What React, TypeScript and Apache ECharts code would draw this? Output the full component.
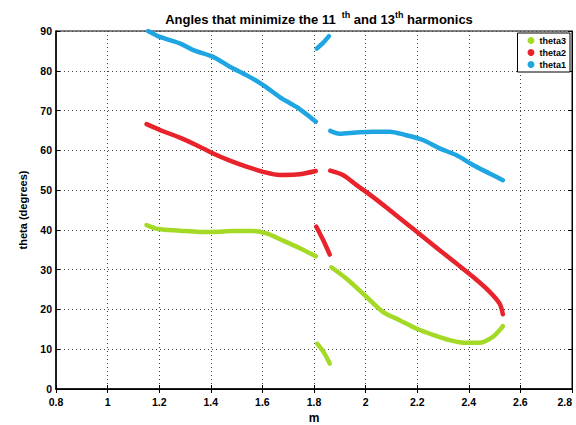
import React, { useEffect, useRef } from "react";
import * as echarts from "echarts";

// theta1 (blue) segments
const theta1A: number[][] = [
  [1.157, 90.0], [1.203, 88.5], [1.28, 86.9], [1.332, 85.2], [1.409, 83.5], [1.474, 81.0],
  [1.538, 78.9], [1.603, 76.4], [1.667, 73.4], [1.732, 70.9], [1.807, 67.2],
];
const theta1B: number[][] = [[1.811, 85.6], [1.835, 87.0], [1.858, 88.7]];
const theta1C: number[][] = [
  [1.863, 64.9], [1.899, 64.2], [1.964, 64.5], [2.028, 64.7], [2.093, 64.7], [2.158, 63.8],
  [2.222, 62.6], [2.287, 60.5], [2.351, 58.8], [2.416, 56.3], [2.48, 54.2], [2.532, 52.5],
];

// theta2 (red) segments
const theta2A: number[][] = [
  [1.151, 66.6], [1.215, 64.8], [1.28, 63.2], [1.345, 61.3], [1.409, 59.2], [1.474, 57.4],
  [1.538, 55.9], [1.603, 54.6], [1.667, 53.8], [1.732, 53.9], [1.807, 54.8],
];
const theta2B: number[][] = [[1.809, 40.8], [1.835, 37.5], [1.861, 33.8]];
const theta2C: number[][] = [
  [1.863, 54.9], [1.912, 53.8], [1.964, 51.3], [2.028, 48.3], [2.093, 45.0], [2.158, 41.6],
  [2.222, 38.3], [2.287, 34.9], [2.351, 31.6], [2.416, 28.2], [2.48, 24.5], [2.519, 21.5],
  [2.532, 18.8],
];

// theta3 (green) segments
const theta3A: number[][] = [
  [1.151, 41.2], [1.196, 40.2], [1.28, 39.8], [1.357, 39.5], [1.409, 39.5], [1.486, 39.7],
  [1.564, 39.7], [1.616, 39.1], [1.68, 37.3], [1.745, 35.4], [1.807, 33.4],
];
const theta3B: number[][] = [[1.812, 11.4], [1.838, 9.2], [1.861, 6.4]];
const theta3C: number[][] = [
  [1.867, 30.6], [1.932, 27.4], [2.003, 23.2], [2.067, 19.4], [2.132, 17.3], [2.196, 15.2],
  [2.261, 13.6], [2.325, 12.3], [2.39, 11.6], [2.441, 11.6], [2.493, 13.1], [2.525, 15.2],
  [2.532, 15.8],
];

const xTicks = { min: 0.8, max: 2.8, step: 0.2 };
const yTicks = { min: 0, max: 90, step: 10 };

const GREEN = "#a4d925";
const RED = "#e8232b";
const BLUE = "#1fa6e2";
const FONT = "Liberation Sans";

export default function App() {
  const ref = useRef<HTMLDivElement>(null);
  useEffect(() => {
    if (!ref.current) return;
    const chart = echarts.init(ref.current, undefined, { renderer: "svg" });
    const seg = (name: string, color: string, data: number[][]) => ({
      name,
      type: "line",
      data,
      smooth: 0.3,
      showSymbol: false,
      symbol: "circle",
      symbolSize: 6,
      itemStyle: { color },
      lineStyle: { color, width: 4.5, cap: "round", join: "round" },
      silent: true,
      z: 5,
    });
    const axisLabel = { color: "#000", fontFamily: FONT, fontWeight: "bold", fontSize: 10.5 };
    const split = { show: true, lineStyle: { color: "#444", type: [1, 3], width: 1 } };
    chart.setOption({
      animation: false,
      backgroundColor: "#fff",
      title: {
        text: "Angles that minimize the 11 {sup| th} and 13{sup|th} harmonics",
        left: 314,
        textAlign: "center",
        top: 5,
        textStyle: {
          fontFamily: FONT,
          fontWeight: "bold",
          fontSize: 13,
          color: "#000",
          rich: {
            sup: { fontFamily: FONT, fontWeight: "bold", fontSize: 9, color: "#000", verticalAlign: "top", padding: [0, 0, 9, 0] },
          },
        },
      },
      legend: {
        data: ["theta3", "theta2", "theta1"],
        orient: "vertical",
        right: 6,
        top: 33,
        itemWidth: 7,
        itemHeight: 7,
        itemGap: 3,
        icon: "circle",
        padding: [3, 4, 3, 10],
        borderColor: "#000",
        borderWidth: 1,
        backgroundColor: "#fff",
        textStyle: { fontFamily: FONT, fontSize: 9, fontWeight: "bold", color: "#000" },
      },
      grid: {
        left: 56,
        right: 4,
        top: 31,
        bottom: 36,
        containLabel: false,
        outerBoundsMode: "none",
        show: true,
        borderColor: "#000",
        borderWidth: 1,
      },
      xAxis: [
        {
          type: "value",
          min: xTicks.min,
          max: xTicks.max,
          interval: xTicks.step,
          name: "m",
          nameLocation: "middle",
          nameGap: 22,
          nameTextStyle: { color: "#000", fontFamily: FONT, fontWeight: "bold", fontSize: 12 },
          axisLine: { lineStyle: { color: "#000", width: 1.5 } },
          axisTick: { inside: true, length: 4, lineStyle: { color: "#000" } },
          axisLabel: {
            ...axisLabel,
            margin: 7,
            alignMaxLabel: "right",
            formatter: (v: number) => String(Number(v.toFixed(1))),
          },
          splitLine: split,
        },
        {
          type: "value",
          position: "top",
          min: xTicks.min,
          max: xTicks.max,
          interval: xTicks.step,
          axisLine: { lineStyle: { color: "#000" } },
          axisTick: { inside: true, length: 4, lineStyle: { color: "#000" } },
          axisLabel: { show: false },
          splitLine: { show: false },
        },
      ],
      yAxis: [
        {
          type: "value",
          min: yTicks.min,
          max: yTicks.max,
          interval: yTicks.step,
          name: "theta (degrees)",
          nameLocation: "middle",
          nameGap: 28,
          nameTextStyle: { color: "#000", fontFamily: FONT, fontWeight: "bold", fontSize: 11 },
          axisLine: { lineStyle: { color: "#000", width: 1.5 } },
          axisTick: { inside: true, length: 4, lineStyle: { color: "#000" } },
          axisLabel: { ...axisLabel, margin: 4 },
          splitLine: split,
        },
        {
          type: "value",
          position: "right",
          min: yTicks.min,
          max: yTicks.max,
          interval: yTicks.step,
          axisLine: { lineStyle: { color: "#000" } },
          axisTick: { inside: true, length: 4, lineStyle: { color: "#000" } },
          axisLabel: { show: false },
          splitLine: { show: false },
        },
      ],
      series: [
        seg("theta3", GREEN, theta3A),
        seg("theta3", GREEN, theta3B),
        seg("theta3", GREEN, theta3C),
        seg("theta2", RED, theta2A),
        seg("theta2", RED, theta2B),
        seg("theta2", RED, theta2C),
        seg("theta1", BLUE, theta1A),
        seg("theta1", BLUE, theta1B),
        seg("theta1", BLUE, theta1C),
      ],
    });
    return () => chart.dispose();
  }, []);
  return <div ref={ref} style={{ position: "absolute", left: 0, top: 0, width: 576, height: 425 }} />;
}
